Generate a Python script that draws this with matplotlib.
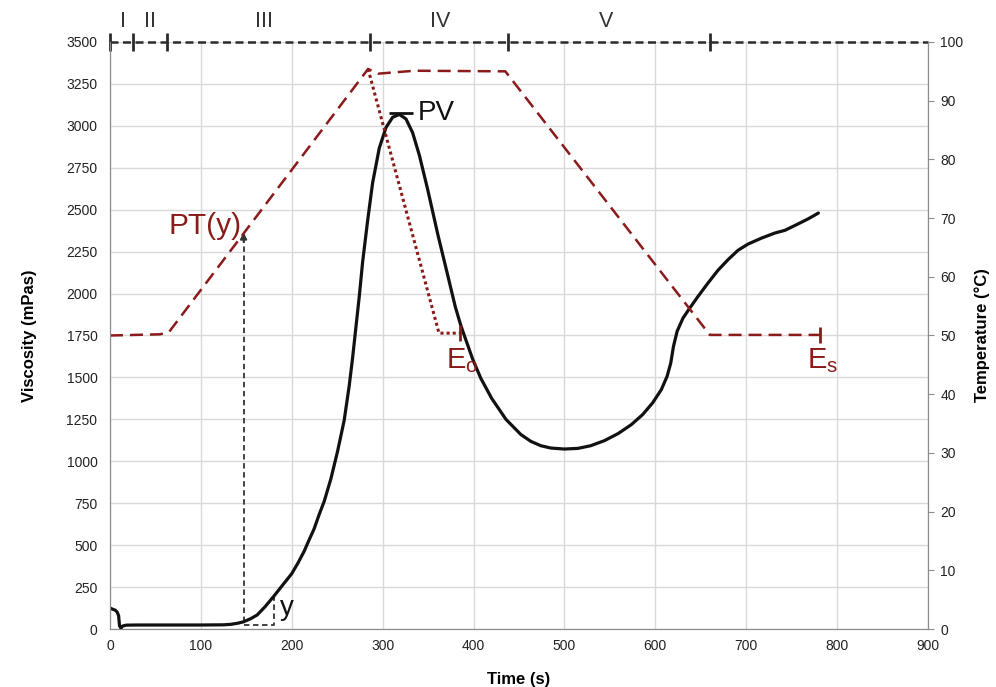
import numpy as np
import matplotlib
matplotlib.use('Agg')
import matplotlib.pyplot as plt

plt.rcParams['font.family'] = ['Liberation Sans', 'DejaVu Sans']

# viscosity profile (mPas)
time_s = [0, 3, 6, 8, 9.5, 10.5, 12, 14, 18, 30, 60, 100, 125, 133, 140, 147, 155,
          162, 171, 180.5, 190, 200, 207, 213.6, 219, 224.6, 230, 235.7, 243, 250.4,
          257.7, 263.2, 266.9, 270.6, 274.3, 278, 283.5, 289, 296.3, 303.7, 311,
          318.4, 325.7, 333, 340.4, 349.6, 360.7, 371.7, 380, 386, 391.5, 399, 408,
          420, 435.7, 452, 463, 474, 485, 500, 515, 529, 544, 559, 573.5, 586,
          597, 606.6, 613, 617, 620, 624, 630.5, 638, 647, 658, 669, 680, 691, 702,
          717, 731.6, 742.6, 757, 768.4, 779.4]
viscosity = [125, 118, 112, 100, 80, 20, 5, 18, 23, 24, 24, 24, 25, 28, 34, 43, 62,
             84, 135, 197, 262, 330, 395, 463, 530, 597, 680, 761, 894, 1059,
             1244, 1449, 1614, 1799, 1983, 2189, 2435, 2661, 2867, 2990, 3051,
             3068, 3041, 2959, 2825, 2620, 2353, 2107, 1920, 1810, 1725, 1610, 1495,
             1375, 1250, 1160, 1119, 1093, 1079, 1073, 1077, 1093, 1123, 1165, 1218, 1278,
             1348, 1427, 1507, 1586, 1685, 1775, 1854, 1914, 1983, 2063, 2139, 2202, 2258, 2295,
             2331, 2361, 2377, 2415, 2446, 2480]

# temperature program (°C)
temp_time = [0, 55, 65, 284, 295, 335, 435, 660, 781]
temp_c = [50, 50.2, 50.6, 95.4, 94.6, 95.1, 95.0, 50.1, 50.1]

# shortened profile (dotted)
short_time = [284, 362, 385]
short_temp = [95.4, 50.4, 50.4]

stage_bounds = [0, 25, 63, 286, 438, 660]
stage_labels = ['I', 'II', 'III', 'IV', 'V']
stage_label_x = [14, 44, 170, 363, 546]

y_start = 147      # pasting onset
y_end = 180
pt_y = 67.6        # pasting temperature

red = '#8b1a1a'
dark = '#333333'
scale = 3500 / 100

fig = plt.figure(figsize=(9.96, 6.87), dpi=100)
ax = fig.add_axes([0.1104, 0.0844, 0.8213, 0.8545])
ax2 = ax.twinx()

ax.set_xlim(0, 900)
ax.set_ylim(0, 3500)
ax.set_xticks(range(0, 901, 100))
ax.set_yticks(range(0, 3501, 250))
ax.grid(True, color='#d9d9d9', lw=1)
ax.set_axisbelow(True)
ax.tick_params(axis='both', length=0, labelsize=10, colors='#222')
ax.tick_params(axis='y', pad=9)
ax.tick_params(axis='x', pad=7)

ax2.set_ylim(0, 100)
ax2.set_yticks(range(0, 101, 10))
ax2.tick_params(axis='y', length=4, color='#8c8c8c', labelsize=10, pad=5, labelcolor='#222')

for a in (ax, ax2):
    a.spines['top'].set_visible(False)
    for s in ('left', 'bottom', 'right'):
        a.spines[s].set_color('#8c8c8c')

ax.set_xlabel('Time (s)', fontsize=12, fontweight='bold', labelpad=14)
ax.set_ylabel('Viscosity (mPas)', fontsize=12, fontweight='bold', labelpad=21)
ax2.set_ylabel('Temperature (°C)', fontsize=12, fontweight='bold', labelpad=8)

# temperature curves
ax2.plot(temp_time, temp_c, color=red, lw=1.8, dashes=(5.2, 2.8), zorder=2)
ax2.plot(short_time, short_temp, color=red, lw=2.2, ls=(0, (1, 1)), zorder=2)
ax2.plot([short_time[-1], temp_time[-1]], [short_temp[-1], temp_c[-1]], ls='none',
         marker='|', ms=12, mew=2, color=red)

# viscosity curve
ax.plot(time_s, viscosity, color='#111111', lw=2.3, solid_joinstyle='round',
        solid_capstyle='round', zorder=3)

# stage bar on top
ax.plot([0, 900], [3500, 3500], color='#2b2b2b', lw=1.8, dashes=(3.2, 1.8),
        clip_on=False, zorder=5)
ax.plot(stage_bounds, [3500] * len(stage_bounds), ls='none', marker='|', ms=13,
        mew=2, color='#2b2b2b', clip_on=False, zorder=6)
for x, lab in zip(stage_label_x, stage_labels):
    ax.text(x, 3621, lab, ha='center', va='center', fontsize=15.5, color='#333',
            clip_on=False)

# peak viscosity
ipk = int(np.argmax(viscosity))
ax.plot(time_s[ipk] + 2, viscosity[ipk] + 10, marker='_', ms=17, mew=2, color='#111111')
ax.annotate('PV', (time_s[ipk], viscosity[ipk]), xytext=(13, 1),
            textcoords='offset points', ha='left', va='center', fontsize=20,
            color='#111111')

# pasting temperature arrow
v_start = np.interp(y_start, time_s, viscosity)
ax.plot([y_start, y_start], [v_start, pt_y * scale - 40], color=dark, lw=1.3,
        dashes=(3, 2))
ax.annotate('', xy=(y_start, pt_y * scale), xytext=(y_start, pt_y * scale - 60),
            arrowprops=dict(arrowstyle='-|>', color=dark, lw=1.3, mutation_scale=10,
                            shrinkA=0, shrinkB=0))
ax.text(y_start - 2, pt_y * scale - 10, 'PT(y)', ha='right', va='baseline',
        fontsize=21.5, color=red)

v_end = np.interp(y_end, time_s, viscosity)
ax.plot([y_start, y_end, y_end], [25, 25, v_end], color=dark, lw=1.3, dashes=(3, 2))
ax.text(y_end + 15, 83, 'y', ha='center', va='baseline', fontsize=20, color='#111111')

# end points
ax2.text(370, 44.5, r'E$_\mathregular{o}$', ha='left', va='baseline', fontsize=21, color=red)
ax2.text(767, 44.5, r'E$_\mathregular{s}$', ha='left', va='baseline', fontsize=21, color=red)

fig.savefig('out.png', dpi=100)
